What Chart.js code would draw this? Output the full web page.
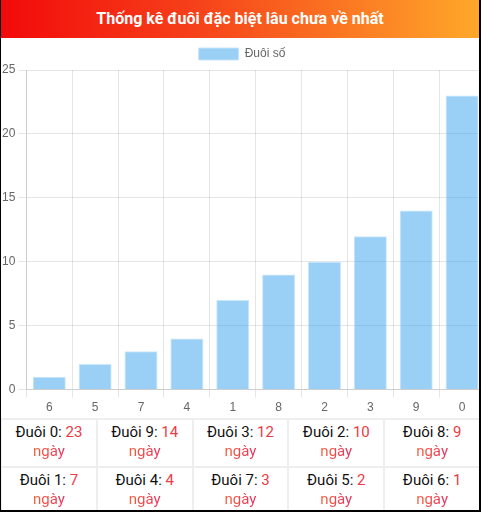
<!DOCTYPE html>
<html>
<head>
<meta charset="utf-8">
<script src="https://cdn.jsdelivr.net/npm/chart.js@4.4.0/dist/chart.umd.min.js"></script>
<style>
    html, body { margin: 0; padding: 0; background: #fff; }
    #box {
        width: 481px; height: 512px; box-sizing: border-box;
        border-left: 1px solid #000; border-right: 2px solid #000; border-bottom: 2px solid #000;
        overflow: hidden; position: relative; font-family: Roboto, sans-serif;
    }
    .tieuDe {
        height: 38px; line-height: 38px; text-align: center; color: #fff;
        font-weight: bold; font-size: 16px;
        background: linear-gradient(to right, #f20a0a, #f6401a 40%, #ffa82a);
    }
    #khungBieuDo { position: relative; width: 486px; height: 380px; margin-left: -2px; }
    table { border-collapse: collapse; width: 481px; table-layout: fixed; margin-left: -1px; }
    td {
        border: 2px solid #eeeeee; text-align: center; font-size: 15px; line-height: 19px;
        height: 43px; padding: 3px 0 0 0; vertical-align: top; color: #111;
    }
    .so { color: #ee3a45; }
    .ngay {
        background: linear-gradient(to right, #f4603a, #e8305e);
        -webkit-background-clip: text; background-clip: text; color: transparent;
    }
</style>
</head>
<body>
<div id="box">
    <div class="tieuDe">Thống kê đuôi đặc biệt lâu chưa về nhất</div>
    <div id="khungBieuDo"><canvas id="bieuDoDuoi"></canvas></div>
    <table id="bangDuoi"></table>
</div>
<script>
// Dữ liệu: đuôi số và số ngày chưa về
const duoiLabels = ['6', '5', '7', '4', '1', '8', '2', '3', '9', '0'];
const soNgay = [1, 2, 3, 4, 7, 9, 10, 12, 14, 23];
const tenSeries = 'Đuôi số';

// Vẽ biểu đồ cột
function initBieuDo() {
    const ctx = document.getElementById('bieuDoDuoi').getContext('2d');
    new Chart(ctx, {
        type: 'bar',
        data: {
            labels: duoiLabels,
            datasets: [{
                label: tenSeries,
                data: soNgay,
                backgroundColor: 'rgba(54, 162, 235, 0.5)',
                borderColor: 'rgba(200, 228, 250, 0.9)',
                borderWidth: 1
            }]
        },
        options: {
            responsive: true,
            maintainAspectRatio: false,
            animation: false,
            layout: { padding: 0 },
            plugins: {
                legend: {
                    labels: { color: '#666', font: { size: 12 } }
                },
                tooltip: { enabled: false }
            },
            scales: {
                x: {
                    ticks: { color: '#666', font: { size: 12 } },
                    grid: { color: 'rgba(0,0,0,0.1)' }
                },
                y: {
                    beginAtZero: true,
                    max: 25,
                    ticks: { stepSize: 5, color: '#666', font: { size: 12 } },
                    grid: { color: 'rgba(0,0,0,0.1)' }
                }
            }
        }
    });
}

// Bảng thống kê, xếp từ lâu nhất
function initBang() {
    const bang = document.getElementById('bangDuoi');
    const thuTu = duoiLabels.map((d, i) => ({ duoi: d, ngay: soNgay[i] })).reverse();
    for (let r = 0; r < 2; r++) {
        const tr = document.createElement('tr');
        for (let c = 0; c < 5; c++) {
            const item = thuTu[r * 5 + c];
            const td = document.createElement('td');
            td.innerHTML = `Đuôi ${item.duoi}: <span class="so">${item.ngay}</span><br><span class="ngay">ngày</span>`;
            tr.appendChild(td);
        }
        bang.appendChild(tr);
    }
}

initBieuDo();
initBang();
</script>
</body>
</html>
